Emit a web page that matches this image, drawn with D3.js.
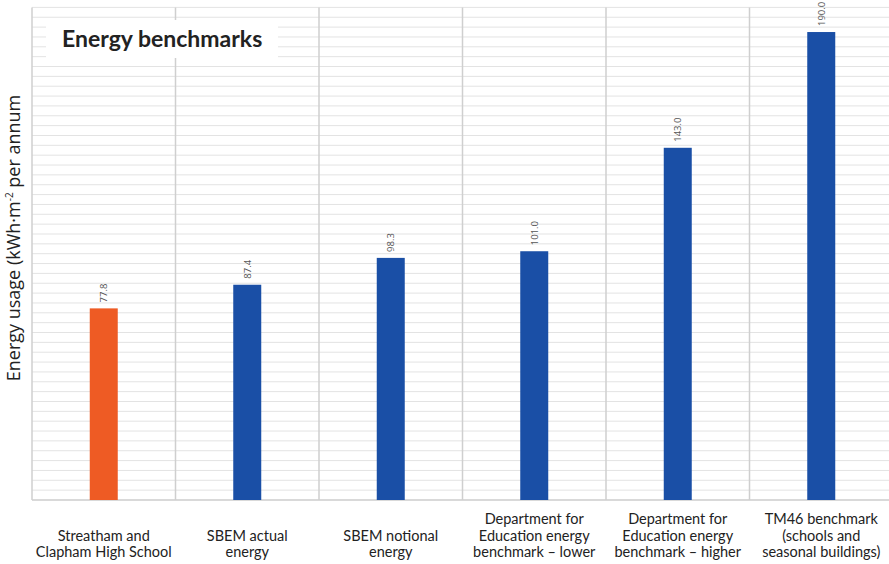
<!DOCTYPE html>
<html>
<head>
<meta charset="utf-8">
<script src="https://cdn.jsdelivr.net/npm/d3@7"></script>
<style>
  body { margin: 0; background: #fff; }
  svg { display: block; }
</style>
</head>
<body>
<div id="chart"></div>
<script>
var categories = [
  ["Streatham and", "Clapham High School"],
  ["SBEM actual", "energy"],
  ["SBEM notional", "energy"],
  ["Department for", "Education energy", "benchmark \u2013 lower"],
  ["Department for", "Education energy", "benchmark \u2013 higher"],
  ["TM46 benchmark", "(schools and", "seasonal buildings)"]
];
var values = [77.8, 87.4, 98.3, 101.0, 143.0, 190.0];
var highlight = [true, false, false, false, false, false];
var gridTicks = d3.range(0, 201, 4);

var width = 889, height = 564;
var plotLeft = 32, plotRight = 893, plotTop = 7.4, plotBottom = 500;

var svg = d3.select('#chart').append('svg')
            .attr('width', width).attr('height', height);

var x = d3.scaleBand()
          .domain(d3.range(values.length))
          .range([plotLeft, plotRight]);
var y = d3.scaleLinear().domain([0, 200]).range([plotBottom, plotTop]);

// horizontal grid
svg.append('g').selectAll('line')
   .data(gridTicks)
   .enter().append('line')
     .attr('x1', plotLeft).attr('x2', plotRight)
     .attr('y1', d => y(d)).attr('y2', d => y(d))
     .attr('stroke', '#e3e3e3').attr('stroke-width', 1);

// vertical category dividers
svg.append('g').selectAll('line')
   .data(d3.range(values.length + 1))
   .enter().append('line')
     .attr('x1', d => plotLeft + d * x.step()).attr('x2', d => plotLeft + d * x.step())
     .attr('y1', plotTop).attr('y2', plotBottom)
     .attr('stroke', '#cfcfcf').attr('stroke-width', 1.5);

svg.append('line')
   .attr('x1', plotLeft).attr('x2', plotRight)
   .attr('y1', plotBottom).attr('y2', plotBottom)
   .attr('stroke', '#d0d0d0').attr('stroke-width', 1.5);

// bars
var barW = 28;
svg.append('g').selectAll('rect')
   .data(values)
   .enter().append('rect')
     .attr('x', (d, i) => x(i) + x.bandwidth() / 2 - barW / 2)
     .attr('y', d => y(d))
     .attr('width', barW)
     .attr('height', d => plotBottom - y(d))
     .attr('fill', (d, i) => highlight[i] ? '#EE5B24' : '#1A4FA6');

// value labels, rotated
svg.append('g').selectAll('text')
   .data(values)
   .enter().append('text')
     .attr('transform', (d, i) => 'translate(' + (x(i) + x.bandwidth() / 2 + 3.5) + ',' + (y(d) - 6) + ') rotate(-90)')
     .attr('text-anchor', 'start')
     .attr('font-family', "'Open Sans', sans-serif")
     .attr('font-size', 9.5)
     .attr('fill', '#555')
     .text(d => d.toFixed(1));

// category labels
var catG = svg.append('g');
categories.forEach(function(lines, i) {
  var t = catG.append('text')
              .attr('text-anchor', 'middle')
              .attr('font-family', 'Lato, sans-serif')
              .attr('font-size', 14.5)
              .attr('fill', '#222');
  lines.forEach(function(l, j) {
    t.append('tspan')
     .attr('x', x(i) + x.bandwidth() / 2)
     .attr('y', 557 - (lines.length - 1 - j) * 16.5)
     .text(l);
  });
});

// y axis title
var yt = svg.append('text')
            .attr('transform', 'translate(20,238) rotate(-90)')
            .attr('text-anchor', 'middle')
            .attr('font-family', "'Open Sans', sans-serif")
            .attr('font-size', 18)
            .attr('fill', '#222');
yt.append('tspan').text('Energy usage (kWh\u00b7m');
yt.append('tspan').attr('font-size', 10).attr('dy', -7).text('-2');
yt.append('tspan').attr('dy', 7).text(' per annum');

// title box
svg.append('rect')
   .attr('x', 46).attr('y', 20)
   .attr('width', 232).attr('height', 38)
   .attr('fill', '#fff');
svg.append('text')
   .attr('x', 62).attr('y', 47)
   .attr('font-family', 'Lato, sans-serif')
   .attr('font-weight', 700)
   .attr('font-size', 23)
   .attr('fill', '#222')
   .text('Energy benchmarks');
</script>
</body>
</html>
